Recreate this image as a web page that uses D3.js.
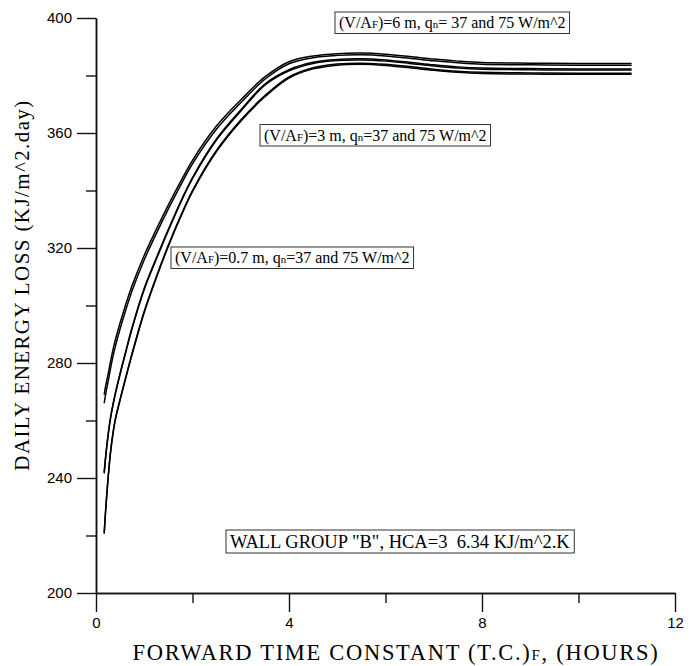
<!DOCTYPE html>
<html><head><meta charset="utf-8">
<script src="https://cdn.jsdelivr.net/npm/d3@7"></script>
<style>body{margin:0;background:#fff}</style>
</head><body>
<svg id="c" width="696" height="666"></svg>
<script>
// ---- data ----
const tcHours = [0.17, 0.2, 0.25, 0.3, 0.35, 0.4, 0.5, 0.6, 0.75, 1, 1.25, 1.5, 1.75, 2, 2.5, 3, 3.5, 4, 4.5, 5, 5.5, 6, 6.5, 7, 7.5, 8, 9, 10, 11.1];
const loss6m_q75  = [269, 272, 276, 280.5, 284.5, 288, 294, 299.5, 307, 317.5, 326.5, 335, 343, 350.5, 362.5, 371.5, 379.5, 384.8, 386.8, 387.6, 387.8, 387.4, 386.6, 385.7, 385, 384.5, 384.3, 384.2, 384.2];
const loss6m_q37  = [266, 269.2, 273.4, 278, 282.1, 285.7, 291.9, 297.5, 305.2, 315.9, 325, 333.6, 341.7, 349.3, 361.4, 370.5, 378.7, 384.1, 386.2, 387, 387.2, 386.8, 386, 385.1, 384.4, 383.9, 383.7, 383.6, 383.6];
const loss3m_q75  = [242, 247.5, 255, 261, 265.5, 269.5, 276.5, 283, 292.5, 306, 316.5, 326.5, 336, 344.5, 358, 368, 377, 382, 384.6, 385.6, 385.8, 385.4, 384.6, 383.7, 383, 382.6, 382.4, 382.3, 382.3];
const loss3m_q37  = [241.6, 247.1, 254.6, 260.6, 265.1, 269.1, 276.1, 282.6, 292.1, 305.6, 316.1, 326.1, 335.6, 344.1, 357.6, 367.6, 376.6, 381.6, 384.2, 385.2, 385.4, 385, 384.2, 383.3, 382.6, 382.2, 382, 381.9, 381.9];
const loss07m_q75 = [221, 229, 240, 249, 255.5, 260.5, 267.5, 274, 283.5, 298, 310, 321, 331, 340, 354, 364.5, 373, 379.5, 382.7, 384, 384.3, 383.9, 383.1, 382.2, 381.5, 381.1, 380.9, 380.8, 380.8];
const loss07m_q37 = [220.6, 228.6, 239.6, 248.6, 255.1, 260.1, 267.1, 273.6, 283.1, 297.6, 309.6, 320.6, 330.6, 339.6, 353.6, 364.1, 372.6, 379.1, 382.3, 383.6, 383.9, 383.5, 382.7, 381.8, 381.1, 380.7, 380.5, 380.4, 380.4];
const yMajorTicks = [200, 240, 280, 320, 360, 400];
const yMinorTicks = [220, 260, 300, 340, 380];
const xMajorTicks = [0, 4, 8, 12];
const xMinorTicks = [2, 6, 10];
const seriesList = [loss6m_q75, loss6m_q37, loss3m_q75, loss3m_q37, loss07m_q75, loss07m_q37];

// ---- chart ----
const svg = d3.select("#c");
const x = d3.scaleLinear().domain([0, 12]).range([96, 675]);
const y = d3.scaleLinear().domain([200, 400]).range([593, 18]);
const serif = "'Liberation Serif','Times New Roman',serif";
const sans = "'Liberation Sans',Arial,sans-serif";

function styleAxis(g) {
  g.select(".domain").attr("stroke", "#111").attr("stroke-width", 1.5);
  g.selectAll(".tick line").attr("stroke", "#111").attr("stroke-width", 1.4);
  g.selectAll(".tick text").attr("font-family", sans).attr("font-size", 15).attr("fill", "#000");
}
svg.append("g").attr("transform", "translate(96,0)")
  .call(d3.axisLeft(y).tickValues(yMinorTicks).tickSize(10).tickFormat("").tickSizeOuter(0)).call(styleAxis);
svg.append("g").attr("transform", "translate(96,0)")
  .call(d3.axisLeft(y).tickValues(yMajorTicks).tickSize(19).tickPadding(5).tickSizeOuter(0)).call(styleAxis);
svg.append("g").attr("transform", "translate(0,593)")
  .call(d3.axisBottom(x).tickValues(xMinorTicks).tickSize(10).tickFormat("").tickSizeOuter(0)).call(styleAxis);
svg.append("g").attr("transform", "translate(0,593)")
  .call(d3.axisBottom(x).tickValues(xMajorTicks).tickSize(19).tickPadding(5).tickSizeOuter(0)).call(styleAxis);

const line = d3.line().x((d, i) => x(tcHours[i])).y(d => y(d)).curve(d3.curveCatmullRom.alpha(0.5));
svg.append("g").selectAll("path").data(seriesList).join("path")
  .attr("d", d => line(d)).attr("fill", "none").attr("stroke", "#000").attr("stroke-width", 1.5);

// axis titles
svg.append("text").attr("transform", "translate(29,285) rotate(-90)")
  .attr("text-anchor", "middle").attr("font-family", serif).attr("font-size", 21)
  .attr("letter-spacing", 1.4).attr("fill", "#000")
  .text("DAILY ENERGY LOSS (KJ/m^2.day)");
const xt = svg.append("text").attr("x", 396).attr("y", 660).attr("text-anchor", "middle")
  .attr("font-family", serif).attr("font-size", 22.5).attr("letter-spacing", 1.7).attr("fill", "#000");
xt.append("tspan").text("FORWARD TIME CONSTANT (T.C.)");
xt.append("tspan").attr("font-size", 15).text("F");
xt.append("tspan").text(", (HOURS)");

// annotation boxes
const notes = [
  {x: 339, y: 28, size: 16, parts: [["(V/A"], ["F", 1], [")=6 m, q"], ["n", 1], ["= 37 and 75 W/m^2"]]},
  {x: 264, y: 140.5, size: 16, parts: [["(V/A"], ["F", 1], [")=3 m, q"], ["n", 1], ["=37 and 75 W/m^2"]]},
  {x: 175, y: 263, size: 16, parts: [["(V/A"], ["F", 1], [")=0.7 m, q"], ["n", 1], ["=37 and 75 W/m^2"]]},
  {x: 230, y: 547.5, size: 18.5, parts: [["WALL GROUP \"B\", HCA=3\u00a0\u00a06.34 KJ/m^2.K"]]}
];
notes.forEach(n => {
  const g = svg.append("g");
  const t = g.append("text").attr("x", n.x).attr("y", n.y).attr("font-family", serif)
    .attr("font-size", n.size).attr("fill", "#000");
  n.parts.forEach(p => t.append("tspan").attr("font-size", p[1] ? n.size * 0.68 : n.size).text(p[0]));
  const b = t.node().getBBox();
  const h = Math.min(n.size + 5.5, 23);
  g.insert("rect", "text").attr("x", n.x - 4).attr("y", n.y - h + 5.5)
    .attr("width", b.width + 8).attr("height", h)
    .attr("fill", "#fff").attr("stroke", "#333").attr("stroke-width", 1);
});
</script>
</body></html>
